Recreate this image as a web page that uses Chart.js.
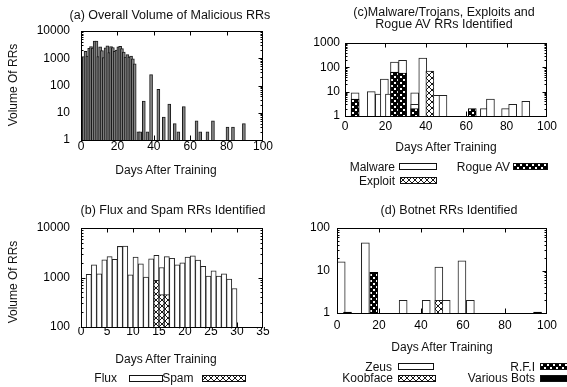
<!DOCTYPE html>
<html><head><meta charset="utf-8">
<script src="https://cdn.jsdelivr.net/npm/chart.js@4.4.1/dist/chart.umd.min.js"></script>
<style>
html,body{margin:0;padding:0;background:#fff;}
#wrap{position:relative;width:567px;height:387px;overflow:hidden;font-family:"Liberation Sans",Arial,Helvetica,sans-serif;color:#111;}
canvas.c{position:absolute;left:0;top:0;}
.t,.r,.v{position:absolute;font-size:12px;line-height:12px;white-space:nowrap;}
.t{transform:translate(-50%,-50%);}
.r{transform:translate(-100%,-50%);}
.v{transform:translate(-50%,-50%) rotate(-90deg);}
.h{font-size:12.5px;}
canvas.sw{position:absolute;}
</style></head><body><div id="wrap">
<canvas class="c" id="ca" width="567" height="387"></canvas>
<canvas class="c" id="cb" width="567" height="387"></canvas>
<canvas class="c" id="cc" width="567" height="387"></canvas>
<canvas class="c" id="cd" width="567" height="387"></canvas>

<div class="t h" style="left:170px;top:15px">(a) Overall Volume of Malicious RRs</div>
<div class="t" style="left:166px;top:170px">Days After Training</div>
<div class="v" style="left:13px;top:85px">Volume Of RRs</div>

<div class="t h" style="left:444px;top:12px">(c)Malware/Trojans, Exploits and</div>
<div class="t h" style="left:444px;top:23.5px">Rogue AV RRs Identified</div>
<div class="t" style="left:446px;top:146.5px">Days After Training</div>
<div class="r" style="left:395px;top:166.5px">Malware</div>
<div class="r" style="left:510px;top:166.5px">Rogue AV</div>
<div class="r" style="left:395px;top:180.5px">Exploit</div>

<div class="t h" style="left:173px;top:210px">(b) Flux and Spam RRs Identified</div>
<div class="t" style="left:166px;top:358.5px">Days After Training</div>
<div class="v" style="left:13px;top:282px">Volume Of RRs</div>
<div class="r" style="left:117px;top:378px">Flux</div>
<div class="r" style="left:193.5px;top:377.5px">Spam</div>

<div class="t h" style="left:449px;top:210px">(d) Botnet RRs Identified</div>
<div class="t" style="left:442px;top:346.5px">Days After Training</div>
<div class="r" style="left:392px;top:366.5px">Zeus</div>
<div class="r" style="left:393px;top:378px">Koobface</div>
<div class="r" style="left:535px;top:366.5px">R.F.I</div>
<div class="r" style="left:535px;top:378px">Various Bots</div>
</div>
<script>
// ---------- DATA ----------
// (a) Overall volume of malicious RRs per day
const aDays   = [1,2,3,4,5,6,7,8,9,10,11,12,13,14,15,16,17,18,19,20,21,22,23,24,25,26,27,28,29,
                 31,32,34,36,38,42,45,48,51,53,56,63,65,69,72,80,83,89];
const aVolume = [1150,1800,1200,2300,2700,2350,4300,4300,1150,2600,1900,1050,2400,2850,1600,2700,2450,1800,2000,2600,2750,2250,1700,1100,1350,1100,1200,950,620,
                 2,2,27,2,250,73,7,21,4,2,17,5,2,2,5,3,3,4];
const aXTicks = [0,20,40,60,80,100];
const aYTicks = [1,10,100,1000,10000];

// (b) Flux and Spam
const fluxDays   = [1,2,3,4,5,6,7,8,9,10,11,12,13,14,15,16,17,18,19,20,21,22,23,24,25,26,27,28,29];
const fluxVolume = [1160,1800,1180,2270,2650,2340,4240,4300,1130,2580,1880,1020,2370,2800,1590,2650,2450,1800,1970,2600,2740,2240,1690,1070,1360,1070,1180,930,600];
const spamDays   = [14,15,16];
const spamVolume = [880,450,450];
const bXTicks = [0,5,10,15,20,25,30,35];
const bYTicks = [100,1000,10000];

// (c) Malware/Trojans, Exploits and Rogue AV
const malwareDays  = [5,13,17,19.5,22,24.5,28.5,34.5,34.5,38.5,45.5,48.5,69,72,79.5,83,89.5];
const malwareCount = [9,10,8,33,8,165,195,9,3,240,7,7,2,5,2,3,4];
const exploitDays  = [42];
const exploitCount = [70];
const rogueDays    = [5,24.5,28.5,34.5,63];
const rogueCount   = [5,64,58,2,2];
const cXTicks = [0,20,40,60,80,100];
const cYTicks = [1,10,100,1000];

// (d) Botnet
const zeusDays      = [2,13.5,31.5,42.5,48.5,52,59.5,63.5];
const zeusCount     = [16,45,2,2,12,2,17,2];
const koobfaceDays  = [48.5];
const koobfaceCount = [2];
const rfiDays       = [17.5];
const rfiCount      = [9];
const variousDays   = [5,95.5];
const variousCount  = [1.05,1.05];
const dXTicks = [0,20,40,60,80,100];
const dYTicks = [1,10,100];

// ---------- RENDERING ----------
Chart.defaults.font.family = '"Liberation Sans", Arial, Helvetica, sans-serif';
Chart.defaults.font.size = 12;
Chart.defaults.color = '#000';

const W = 567, H = 387, XH = 24;

function tile(kind){
  const c = document.createElement('canvas');
  const g = c.getContext('2d');
  if (kind === 'x') {
    c.width = 6; c.height = 6;
    g.fillStyle = '#fff'; g.fillRect(0,0,6,6);
    g.strokeStyle = '#000'; g.lineWidth = 0.9;
    g.beginPath(); g.moveTo(0,0); g.lineTo(6,6); g.moveTo(6,0); g.lineTo(0,6); g.stroke();
  } else {
    c.width = 6; c.height = 6;
    g.fillStyle = '#000'; g.fillRect(0,0,6,6);
    g.fillStyle = '#fff'; g.fillRect(1,1,2,2); g.fillRect(4,4,2,2);
  }
  return c;
}
function pat(ctx, kind){ return ctx.createPattern(tile(kind), 'repeat'); }

const gnuFrame = {
  id: 'gnuFrame',
  beforeDatasetsDraw(chart){
    const {ctx, chartArea:a, scales:{x, y}} = chart;
    const L = Math.round(a.left), R = Math.round(a.right), T = Math.round(a.top), B = Math.round(a.bottom);
    ctx.save(); ctx.strokeStyle = '#000'; ctx.lineWidth = 1; ctx.beginPath();
    x.ticks.forEach(t => {
      const p = Math.round(x.getPixelForValue(t.value)) + 0.5;
      if (p <= L + 1 || p >= R - 1) return;
      ctx.moveTo(p, B); ctx.lineTo(p, B - 4.5);
      ctx.moveTo(p, T); ctx.lineTo(p, T + 4.5);
    });
    y.ticks.forEach(t => {
      const p = Math.round(y.getPixelForValue(t.value)) + 0.5;
      if (p <= T + 1 || p >= B - 1) return;
      ctx.moveTo(L, p); ctx.lineTo(L + 4.5, p);
      ctx.moveTo(R, p); ctx.lineTo(R - 4.5, p);
    });
    for (let d = y.min; d < y.max; d *= 10) {
      for (let m = 2; m < 10; m++) {
        const p = Math.round(y.getPixelForValue(d * m)) + 0.5;
        ctx.moveTo(L, p); ctx.lineTo(L + 2.5, p);
        ctx.moveTo(R, p); ctx.lineTo(R - 2.5, p);
      }
    }
    ctx.stroke(); ctx.restore();
  },
  afterDatasetsDraw(chart){
    const {ctx, chartArea:a} = chart;
    const L = Math.round(a.left), R = Math.round(a.right), T = Math.round(a.top), B = Math.round(a.bottom);
    ctx.save(); ctx.strokeStyle = '#000'; ctx.lineWidth = 1;
    ctx.strokeRect(L + 0.5, T + 0.5, R - L - 1, B - T);
    ctx.restore();
  }
};

function makeChart(id, box, xTicks, yTicks, xPad, yPad, datasets){
  const cv = document.getElementById(id);
  return new Chart(cv, {
    type: 'bar',
    data: { datasets },
    options: {
      responsive: false, maintainAspectRatio: false, animation: false, devicePixelRatio: 1,
      layout: { padding: { left: 0, top: box.top, right: W - box.right, bottom: H - box.bottom - XH } },
      plugins: { legend: { display: false }, tooltip: { enabled: false }, title: { display: false } },
      scales: {
        x: {
          type: 'linear', min: xTicks[0], max: xTicks[xTicks.length - 1], offset: false, stacked: true,
          grid: { display: false, drawTicks: false }, border: { display: false },
          ticks: { padding: xPad, maxRotation: 0, autoSkip: false, font: { size: 12, lineHeight: 1 }, callback: v => String(v) },
          afterBuildTicks: s => { s.ticks = xTicks.map(v => ({ value: v })); },
          afterFit: s => { s.height = XH; }
        },
        y: {
          type: 'logarithmic', min: yTicks[0], max: yTicks[yTicks.length - 1], stacked: false,
          grid: { display: false, drawTicks: false }, border: { display: false },
          ticks: { padding: yPad, font: { size: 12, lineHeight: 1 }, callback: v => String(v) },
          afterBuildTicks: s => { s.ticks = yTicks.map(v => ({ value: v })); },
          afterFit: s => { s.width = box.left; }
        }
      }
    },
    plugins: [gnuFrame]
  });
}

const pts = (days, vals, off) => days.map((d, i) => ({ x: d + off, y: vals[i] }));

// (a)
makeChart('ca', {left:81, top:31, right:263, bottom:140}, aXTicks, aYTicks, 1, 11, [
  { label: 'All', data: pts(aDays, aVolume, 0.5), backgroundColor: '#858585', borderColor: '#1a1a1a',
    borderWidth: 1, barThickness: 3, stack: 's' }
]);

// (b)
const ctxB = document.getElementById('cb').getContext('2d');
makeChart('cb', {left:81, top:228, right:263, bottom:327}, bXTicks, bYTicks, -1, 11, [
  { label: 'Flux', data: pts(fluxDays, fluxVolume, 0.5), backgroundColor: '#fff', borderColor: '#222',
    borderWidth: 1, barThickness: 5.2, stack: 's', order: 2 },
  { label: 'Spam', data: pts(spamDays, spamVolume, 0.5), backgroundColor: pat(ctxB, 'x'), borderColor: '#222',
    borderWidth: 1, barThickness: 5.2, stack: 's', order: 1 }
]);

// (c)
const ctxC = document.getElementById('cc').getContext('2d');
makeChart('cc', {left:345, top:43, right:547, bottom:116}, cXTicks, cYTicks, 4.5, 5, [
  { label: 'Malware', data: pts(malwareDays, malwareCount, 0), backgroundColor: '#fff', borderColor: '#222',
    borderWidth: 1, barThickness: 8, stack: 's', order: 2 },
  { label: 'Exploit', data: pts(exploitDays, exploitCount, 0), backgroundColor: pat(ctxC, 'x'), borderColor: '#222',
    borderWidth: 1, barThickness: 8, stack: 's', order: 1 },
  { label: 'Rogue AV', data: pts(rogueDays, rogueCount, 0), backgroundColor: pat(ctxC, 'd'), borderColor: '#000',
    borderWidth: 1, barThickness: 8, stack: 's', order: 1 }
]);

// (d)
const ctxD = document.getElementById('cd').getContext('2d');
makeChart('cd', {left:337, top:228, right:547, bottom:313}, dXTicks, dYTicks, 7, 7, [
  { label: 'Zeus', data: pts(zeusDays, zeusCount, 0), backgroundColor: '#fff', borderColor: '#222',
    borderWidth: 1, barThickness: 8, stack: 's', order: 2 },
  { label: 'Koobface', data: pts(koobfaceDays, koobfaceCount, 0), backgroundColor: pat(ctxD, 'x'), borderColor: '#222',
    borderWidth: 1, barThickness: 8, stack: 's', order: 1 },
  { label: 'R.F.I', data: pts(rfiDays, rfiCount, 0), backgroundColor: pat(ctxD, 'd'), borderColor: '#000',
    borderWidth: 1, barThickness: 8, stack: 's', order: 1 },
  { label: 'Various Bots', data: pts(variousDays, variousCount, 0), backgroundColor: '#000', borderColor: '#000',
    borderWidth: 1, barThickness: 8, stack: 's', order: 1 }
]);

// legend swatches
function swatch(x, y, w, h, kind){
  const c = document.createElement('canvas');
  c.className = 'sw'; c.width = w; c.height = h;
  c.style.left = x + 'px'; c.style.top = y + 'px';
  const g = c.getContext('2d');
  g.fillStyle = kind === 'w' ? '#fff' : kind === 'k' ? '#000' : g.createPattern(tile(kind), 'repeat');
  g.fillRect(0, 0, w, h);
  g.strokeStyle = '#111'; g.lineWidth = 1; g.strokeRect(0.5, 0.5, w - 1, h - 1);
  document.getElementById('wrap').appendChild(c);
}
swatch(129, 375, 34, 7, 'w');
swatch(202, 375, 44, 7, 'x');
swatch(399, 163, 38, 7, 'w');
swatch(513, 163, 35, 7, 'd');
swatch(400, 177, 37, 7, 'x');
swatch(398, 363, 36, 7, 'w');
swatch(398, 375, 38, 7, 'x');
swatch(540, 363, 30, 7, 'd');
swatch(540, 375, 30, 7, 'k');
</script>
</body></html>
